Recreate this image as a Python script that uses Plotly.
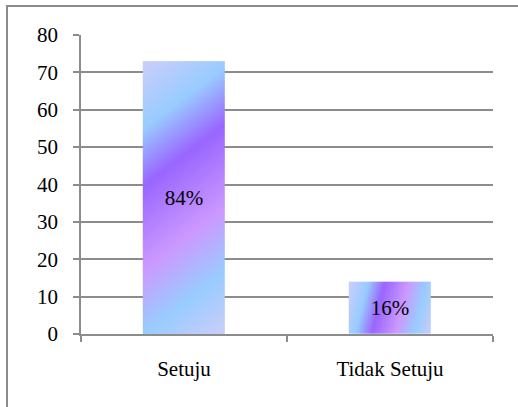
import numpy as np
import plotly.graph_objects as go

# Survey responses
categories = ["Setuju", "Tidak Setuju"]
responses = [73, 14]
y_ticks = [0, 10, 20, 30, 40, 50, 60, 70, 80]

# Figure geometry
W, H = 518, 407
M = dict(l=81, r=25, t=35, b=73)
plot_w = W - M["l"] - M["r"]
plot_h = H - M["t"] - M["b"]
x_range = [-0.5, len(categories) - 0.5]
y_range = [0, 80]
px_x = plot_w / (x_range[1] - x_range[0])
px_y = plot_h / (y_range[1] - y_range[0])
BAR_W = 0.4

GRAY = "#8c8c8c"
FONT = "Liberation Serif"
FS = 21

# Diagonal gradient used to fill each bar
gradient = [
    [0.00, "#cccdfb"],
    [0.20, "#99ccff"],
    [0.37, "#9966ff"],
    [0.62, "#cc99ff"],
    [0.81, "#99ccff"],
    [1.00, "#cccdfb"],
]

total = sum(responses)
pct_labels = [f"{round(100 * v / total)}%" for v in responses]

fig = go.Figure()

for i, v in enumerate(responses):
    x0 = i - BAR_W / 2
    nx, ny = 60, max(60, int(v * 3))
    xe = np.linspace(x0, x0 + BAR_W, nx + 1)
    ye = np.linspace(0, v, ny + 1)
    xc = (xe[:-1] + xe[1:]) / 2
    yc = (ye[:-1] + ye[1:]) / 2
    w_px = BAR_W * px_x
    h_px = v * px_y
    s = 2.5 * w_px / h_px
    PX, PY = np.meshgrid((xc - x0) * px_x, (v - yc) * px_y)
    t = (s * PX + PY) / (s * w_px + h_px)
    fig.add_trace(go.Heatmap(
        x=xe, y=ye, z=t, zmin=0, zmax=1, colorscale=gradient,
        zsmooth="best", showscale=False, hoverinfo="skip",
    ))

fig.add_trace(go.Bar(
    x=list(range(len(categories))), y=responses, width=BAR_W,
    marker=dict(color="rgba(0,0,0,0)", line=dict(width=0)),
    text=pct_labels, textposition="inside", insidetextanchor="middle",
    textangle=0,
    insidetextfont=dict(family=FONT, size=FS, color="black"),
    hoverinfo="skip",
))

# Outer chart frame
fig.add_shape(
    type="rect", xref="paper", yref="paper",
    xsizemode="pixel", ysizemode="pixel", xanchor=0, yanchor=1,
    x0=7 - M["l"], x1=W + 10 - M["l"],
    y0=M["t"] - 6, y1=-(H + 10 - M["t"]),
    line=dict(color=GRAY, width=2), fillcolor="rgba(0,0,0,0)", layer="below",
)

fig.update_layout(
    width=W, height=H, margin=M,
    paper_bgcolor="white", plot_bgcolor="white",
    showlegend=False,
    font=dict(family=FONT, size=FS, color="black"),
    xaxis=dict(
        range=x_range, tickvals=list(range(len(categories))), ticktext=categories,
        ticks="", showline=True, linecolor=GRAY, linewidth=1.5,
        showgrid=False, zeroline=False, ticklabelstandoff=15,
        tickfont=dict(family=FONT, size=FS, color="black"),
        minor=dict(tickvals=[-0.5, 0.5, 1.5], ticks="outside", ticklen=6,
                   tickcolor=GRAY, tickwidth=1.5, showgrid=False),
        fixedrange=True,
    ),
    yaxis=dict(
        range=y_range, tickvals=y_ticks, ticks="outside", ticklen=6,
        tickcolor=GRAY, tickwidth=1.5, showline=True, linecolor=GRAY,
        linewidth=1.5, showgrid=True, gridcolor=GRAY, gridwidth=1.5,
        zeroline=False, ticklabelstandoff=11,
        tickfont=dict(family=FONT, size=FS, color="black"),
        fixedrange=True,
    ),
)

fig.write_html("out.html")
